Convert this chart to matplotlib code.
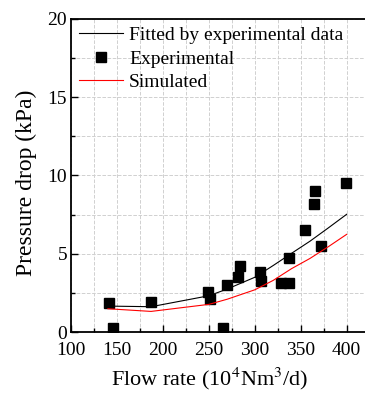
import numpy as np
import matplotlib.pyplot as plt
from matplotlib.ticker import MultipleLocator

plt.rcParams['font.family'] = ['Liberation Serif', 'DejaVu Serif']
plt.rcParams['mathtext.fontset'] = 'stix'

# experimental points
exp_x = [140.7, 145.5, 186.9, 249.1, 251.6, 265.5, 269.8, 281.8, 284.4, 305.5,
         307.0, 328.0, 337.1, 337.5, 354.5, 364.4, 365.1, 372.4, 399.6]
exp_y = [1.83, 0.28, 1.94, 2.53, 2.09, 0.28, 3.02, 3.54, 4.24, 3.83,
         3.26, 3.15, 3.15, 4.75, 6.54, 8.2, 9.03, 5.51, 9.54]

# fitted curve
fit_x = [140, 187, 250, 270, 300, 320, 340, 360, 380, 400]
fit_y = [1.66, 1.62, 2.32, 2.75, 3.5, 4.25, 5.03, 5.8, 6.65, 7.52]

# simulated curve
sim_x = [140, 187, 250, 270, 300, 320, 340, 360, 380, 400]
sim_y = [1.49, 1.32, 1.77, 2.1, 2.7, 3.3, 4.05, 4.7, 5.45, 6.24]

fig = plt.figure(figsize=(3.65, 3.93), dpi=100)
ax = fig.add_axes([0.195, 0.155, 0.805, 0.797])

ax.plot(fit_x, fit_y, color='black', lw=0.8, label='Fitted by experimental data')
ax.plot(exp_x, exp_y, 's', color='black', ms=7, label='Experimental')
ax.plot(sim_x, sim_y, color='red', lw=0.8, label='Simulated')

ax.set_xlim(100, 420)
ax.set_ylim(0, 20)
ax.xaxis.set_major_locator(MultipleLocator(50))
ax.xaxis.set_minor_locator(MultipleLocator(25))
ax.yaxis.set_major_locator(MultipleLocator(5))
ax.yaxis.set_minor_locator(MultipleLocator(2.5))
ax.tick_params(which='both', direction='in', labelsize=14, top=False, right=False)
ax.tick_params(which='major', length=5, width=1)
ax.tick_params(which='minor', length=3, width=1)
ax.tick_params(axis='y', pad=3)
ax.tick_params(axis='x', pad=7)
ax.grid(which='both', ls='--', color='#d0d0d0', lw=0.7)
ax.set_axisbelow(True)
for s in ['left', 'bottom', 'top']:
    ax.spines[s].set_linewidth(1.3)
ax.spines['right'].set_visible(False)

ax.set_xlabel('Flow rate (10$^4$Nm$^3$/d)', fontsize=16)
ax.set_ylabel('Pressure drop (kPa)', fontsize=17)
ax.xaxis.set_label_coords(0.473, -0.105)
ax.yaxis.set_label_coords(-0.116, 0.476)

ax.legend(loc='upper left', frameon=False, fontsize=14, handlelength=2.27,
          borderaxespad=0.0, labelspacing=0.29, handletextpad=0.3)

fig.savefig('out.png', dpi=100)
